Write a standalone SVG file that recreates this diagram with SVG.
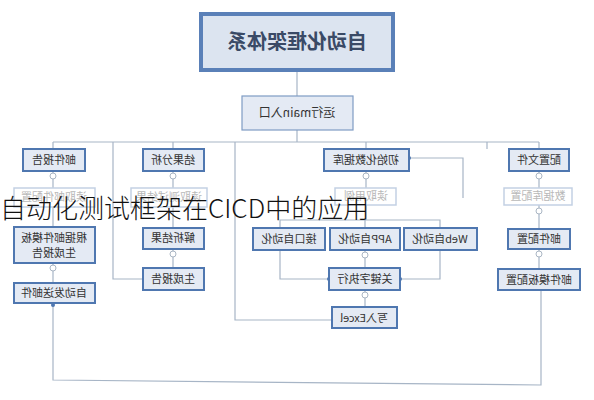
<svg xmlns="http://www.w3.org/2000/svg" width="594" height="400" viewBox="0 0 594 400">
<defs>
<style>
.n rect{fill:#e4eaf4;stroke:#4f77b0;stroke-width:2}
.f rect{fill:#ffffff;stroke:#c3d1e4;stroke-width:1.5}
.t{font-family:"Noto Sans CJK SC","Noto Sans",sans-serif;font-size:11px;fill:#333;text-anchor:middle}
.f .t{fill:#b8b8b8}
.c path,.c line,.c polyline{fill:none;stroke:#a7b5c6;stroke-width:1.2}
.k{fill:#fff;stroke:#aab6c4;stroke-width:1}
.d{fill:#4f77b0}
</style>
</defs>
<g class="c">
<line x1="297" y1="70" x2="297" y2="96"/>
<line x1="297" y1="130" x2="297" y2="142"/>
<line x1="53" y1="142" x2="539" y2="142"/>
<line x1="53" y1="142" x2="53" y2="150"/>
<line x1="173" y1="142" x2="173" y2="150"/>
<line x1="366" y1="142" x2="366" y2="150"/>
<line x1="539" y1="142" x2="539" y2="150"/>
<line x1="487" y1="142" x2="487" y2="149"/>
<polyline points="113,142 113,279 143,279"/>
<polyline points="235,142 235,320 332,320"/>
<line x1="53" y1="171" x2="53" y2="188"/>
<line x1="53" y1="207" x2="53" y2="227"/>
<line x1="53" y1="263" x2="53" y2="283"/>
<line x1="173" y1="171" x2="173" y2="188"/>
<line x1="173" y1="207" x2="173" y2="228"/>
<line x1="173" y1="249" x2="173" y2="268"/>
<line x1="366" y1="171" x2="366" y2="188"/>
<polyline points="366,205 366,220"/>
<polyline points="280,228 280,220 440,220 440,228"/>
<line x1="365" y1="220" x2="365" y2="228"/>
<polyline points="463,198 463,158 410,158"/>
<line x1="539" y1="171" x2="539" y2="188"/>
<line x1="539" y1="205" x2="539" y2="229"/>
<line x1="539" y1="248" x2="539" y2="269"/>
<polyline points="280,250 280,279 328,279"/>
<polyline points="440,250 440,279 400,279"/>
<line x1="365" y1="250" x2="365" y2="268"/>
<line x1="365" y1="290" x2="365" y2="307"/>
<polyline points="53,303 53,380 541,385 541,290"/>
<circle class="k" cx="53" cy="176" r="3"/>
<circle class="k" cx="173" cy="176" r="3"/>
<circle class="k" cx="366" cy="176" r="3"/>
<circle class="k" cx="539" cy="176" r="3"/>
<circle class="k" cx="539" cy="211" r="3"/>
<circle class="k" cx="539" cy="254" r="3"/>
<circle class="k" cx="53" cy="268" r="3"/>
<circle class="k" cx="173" cy="254" r="3"/>
<circle class="k" cx="365" cy="255" r="3"/>
<circle class="k" cx="365" cy="295" r="3"/>
<circle class="d" cx="409" cy="158" r="2"/>
<circle class="d" cx="329" cy="279" r="2"/>
<circle class="d" cx="400" cy="279" r="2"/>
<circle class="d" cx="53" cy="305" r="2"/>
</g>
<g id="title">
<rect x="201" y="14" width="192" height="56" fill="#dce4f0" stroke="#5a80b8" stroke-width="4"/>
<text transform="scale(-1,1)" x="-297" y="49" style="font-family:'Noto Sans CJK SC',sans-serif;font-size:20px;font-weight:bold;fill:#3a4a66;text-anchor:middle">自动化框架体系</text>
</g>
<g id="main" class="n"><rect x="242" y="96" width="111" height="34" style="stroke-width:1.2;stroke:#7f9cc4"/><text class="t" transform="scale(-1,1)" x="-297" y="117" style="font-size:12px">运行main入口</text></g>
<g id="mailreport" class="n"><rect x="23" y="149" width="62" height="22"/><text class="t" transform="scale(-1,1)" x="-54" y="164">邮件报告</text></g>
<g id="analysis" class="n"><rect x="143" y="149" width="61" height="22"/><text class="t" transform="scale(-1,1)" x="-173" y="164">结果分析</text></g>
<g id="initdb" class="n"><rect x="324" y="149" width="85" height="22"/><text class="t" transform="scale(-1,1)" x="-366" y="164">初始化数据库</text></g>
<g id="config" class="n"><rect x="509" y="149" width="60" height="22"/><text class="t" transform="scale(-1,1)" x="-539" y="164">配置文件</text></g>
<g id="f1" class="f"><rect x="14" y="188" width="81" height="19"/><text class="t" transform="scale(-1,1)" x="-54" y="201">读取邮件配置</text></g>
<g id="f2" class="f"><rect x="131" y="188" width="76" height="19"/><text class="t" transform="scale(-1,1)" x="-169" y="201">读取测试结果</text></g>
<g id="f3" class="f"><rect x="335" y="188" width="61" height="17"/><text class="t" transform="scale(-1,1)" x="-366" y="200">读取用例</text></g>
<g id="f4" class="f"><rect x="504" y="188" width="68" height="17"/><text class="t" transform="scale(-1,1)" x="-538" y="200">数据库配置</text></g>
<g id="tplreport" class="n"><rect x="14" y="227" width="81" height="36"/><text class="t" transform="scale(-1,1)" x="-54" y="242">根据邮件模板</text><text class="t" transform="scale(-1,1)" x="-54" y="257">生成报告</text></g>
<g id="sendmail" class="n"><rect x="14" y="283" width="81" height="20"/><text class="t" transform="scale(-1,1)" x="-54" y="297">自动发送邮件</text></g>
<g id="parse" class="n"><rect x="143" y="228" width="61" height="21"/><text class="t" transform="scale(-1,1)" x="-173" y="242">解析结果</text></g>
<g id="genreport" class="n"><rect x="143" y="268" width="61" height="22"/><text class="t" transform="scale(-1,1)" x="-173" y="283">生成报告</text></g>
<g id="api" class="n"><rect x="253" y="228" width="72" height="22"/><text class="t" transform="scale(-1,1)" x="-289" y="243">接口自动化</text></g>
<g id="app" class="n"><rect x="330" y="228" width="70" height="22"/><text class="t" transform="scale(-1,1)" x="-365" y="243">APP自动化</text></g>
<g id="web" class="n"><rect x="404" y="228" width="73" height="22"/><text class="t" transform="scale(-1,1)" x="-440" y="243">Web自动化</text></g>
<g id="keyword" class="n"><rect x="329" y="268" width="71" height="22"/><text class="t" transform="scale(-1,1)" x="-365" y="283">关键字执行</text></g>
<g id="excel" class="n"><rect x="332" y="307" width="65" height="21"/><text class="t" transform="scale(-1,1)" x="-364" y="322">写入Excel</text></g>
<g id="mailcfg" class="n"><rect x="508" y="229" width="62" height="20"/><text class="t" transform="scale(-1,1)" x="-539" y="243">邮件配置</text></g>
<g id="mailtpl" class="n"><rect x="498" y="269" width="82" height="21"/><text class="t" transform="scale(-1,1)" x="-539" y="284">邮件模板配置</text></g>
<text x="0" y="218" style="font-family:'Noto Sans CJK SC',sans-serif;font-size:26px;font-weight:300;fill:#111">自动化测试框架在CICD中的应用</text>
</svg>
